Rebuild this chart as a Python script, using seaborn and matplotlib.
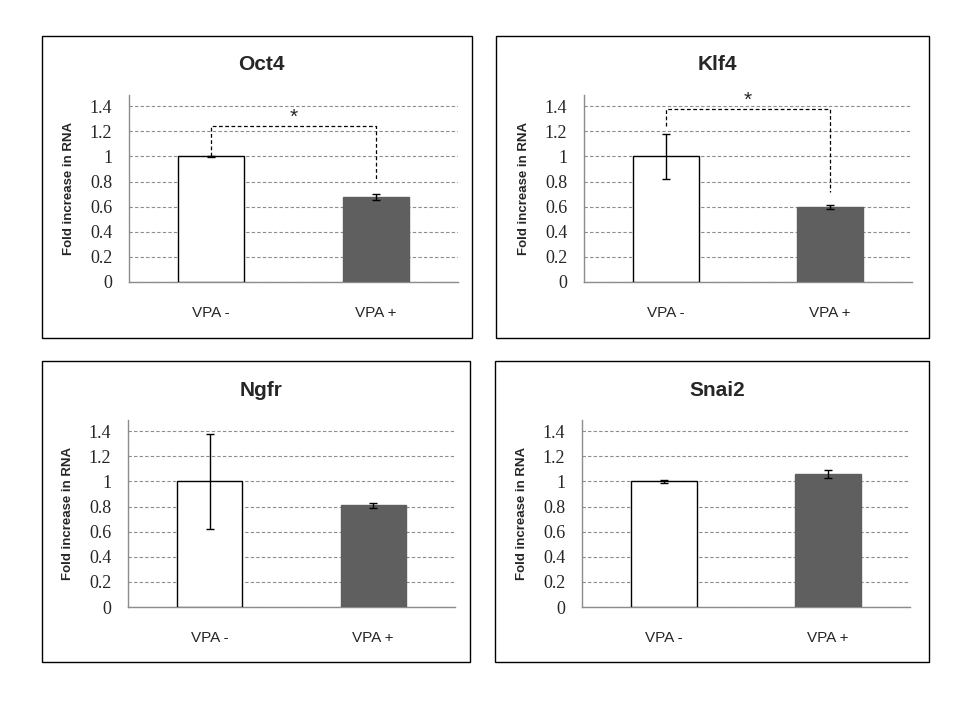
import pandas as pd
import seaborn as sns
import matplotlib.pyplot as plt
from matplotlib.patches import Rectangle


# Valores (fold increase em RNA)

genes = ['Oct4', 'Klf4', 'Ngfr', 'Snai2']
grupos = ['VPA -', 'VPA +']

media_menos = [1.0, 1.0, 1.0, 1.0]
media_mais = [0.675, 0.597, 0.81, 1.06]
erro_menos = [0.004, 0.18, 0.375, 0.01]
erro_mais = [0.024, 0.015, 0.02, 0.03]

# colchetes de significância: (topo, base esquerda, base direita) ou None
colchete = [(1.24, 1.0, 0.806), (1.375, 1.24, 0.72), None, None]

cores = {'VPA -': 'white', 'VPA +': '#5f5f5f'}
cinza_eixo = '#8c8c8c'

sns.set_style('white')
plt.rcParams['font.family'] = ['Liberation Sans', 'DejaVu Sans']

fig = plt.figure(figsize=(9.6, 7.2), dpi=100)

# posição dos eixos e das caixas em pixels (x_esq, x_dir, y_topo, y_base)
eixos_px = [(129, 458, 95, 282), (584, 912, 95, 282),
            (128, 455, 420, 607), (582, 910, 420, 607)]
caixas_px = [(42, 472, 36, 338), (496, 929, 36, 338),
             (42, 470, 361, 662), (495, 929, 361, 662)]

W, H = 960, 720

for i, gene in enumerate(genes):
    x0, x1, yt, yb = eixos_px[i]
    ax = fig.add_axes([x0 / W, 1 - yb / H, (x1 - x0) / W, (yb - yt) / H])

    df = pd.DataFrame({
        'grupo': grupos,
        'fold': [media_menos[i], media_mais[i]],
        'erro': [erro_menos[i], erro_mais[i]],
    })

    sns.barplot(data=df, x='grupo', y='fold', hue='grupo', palette=cores,
                order=grupos, width=0.4, errorbar=None, legend=False, ax=ax,
                zorder=3)
    for p, g in zip(ax.patches, grupos):
        p.set_edgecolor('black' if g == 'VPA -' else cores[g])
        p.set_linewidth(1.0)

    ax.errorbar(range(len(grupos)), df['fold'], yerr=df['erro'], fmt='none',
                ecolor='black', elinewidth=1, capsize=3, capthick=1, zorder=4)

    if colchete[i] is not None:
        topo, base_esq, base_dir = colchete[i]
        ax.plot([0, 0, 1, 1], [base_esq, topo, topo, base_dir],
                color='black', lw=0.9, ls=(0, (3, 2)), zorder=5)
        ax.text(0.5, topo - 0.005, '*', ha='center', va='bottom',
                fontsize=15, family='Liberation Sans')

    ax.set_xlim(-0.5, 1.5)
    ax.set_ylim(0, 1.49)
    ax.set_yticks([0, 0.2, 0.4, 0.6, 0.8, 1.0, 1.2, 1.4])
    ax.set_yticklabels(['0', '0.2', '0.4', '0.6', '0.8', '1', '1.2', '1.4'],
                       family='Liberation Serif', fontsize=13)
    ax.yaxis.grid(True, color=cinza_eixo, ls=(0, (3, 2)), lw=0.8, zorder=0)
    ax.set_axisbelow(True)
    ax.tick_params(axis='both', length=0)
    ax.tick_params(axis='x', labelsize=11, pad=17)
    ax.tick_params(axis='y', pad=12)
    for lado in ['top', 'right']:
        ax.spines[lado].set_visible(False)
    for lado in ['left', 'bottom']:
        ax.spines[lado].set_color(cinza_eixo)
        ax.spines[lado].set_linewidth(1)

    ax.set_xlabel('')
    ax.set_ylabel('Fold increase in RNA', fontsize=9.5, fontweight='bold',
                  labelpad=11)

    cx0, cx1, cyt, cyb = caixas_px[i]
    fig.patches.append(Rectangle((cx0 / W, 1 - cyb / H), (cx1 - cx0) / W,
                                 (cyb - cyt) / H, transform=fig.transFigure,
                                 fill=False, edgecolor='black', lw=1))
    fig.text((cx0 + cx1) / 2 / W + 0.005, 1 - (cyt + 29) / H, gene,
             ha='center', va='center', fontsize=15, fontweight='bold')

fig.savefig('out.png', dpi=100, facecolor='white')
